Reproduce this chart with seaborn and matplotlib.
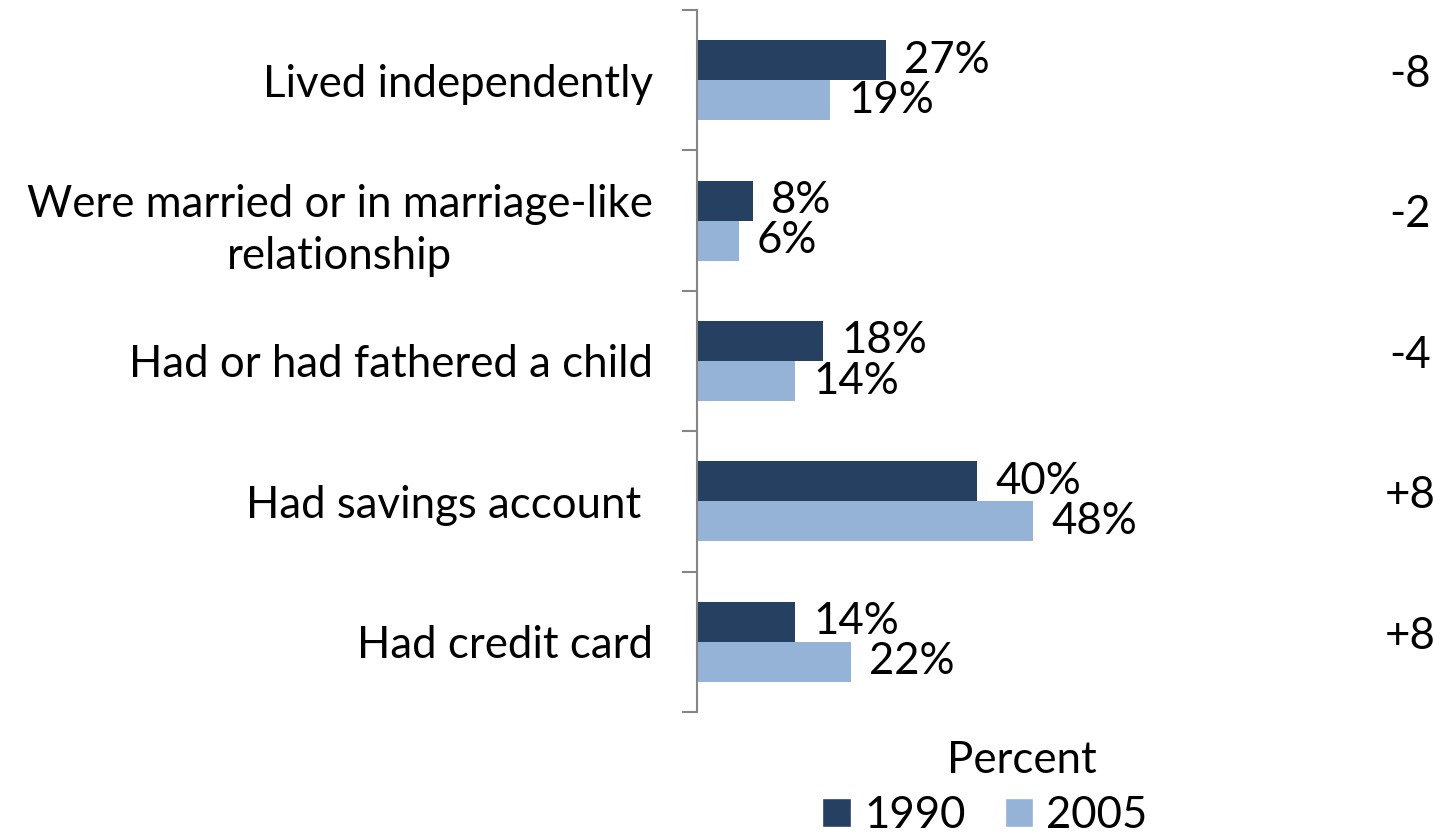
import matplotlib
matplotlib.use("Agg")
import matplotlib.pyplot as plt
import seaborn as sns
import pandas as pd
from matplotlib.patches import Patch

categories = ["Lived independently",
              "Were married or in marriage-like\nrelationship",
              "Had or had fathered a child",
              "Had savings account ",
              "Had credit card"]
values_1990 = [27, 8, 18, 40, 14]
values_2005 = [19, 6, 14, 48, 22]
changes = ["-8", "-2", "-4", "+8", "+8"]
years = ["1990", "2005"]
colors = ["#254061", "#95B3D7"]

sns.set_theme(style="white")
plt.rcParams['font.family'] = ['Lato', 'DejaVu Sans']
FS = 31.5

df = pd.DataFrame({
    "item": categories * 2,
    "value": values_1990 + values_2005,
    "year": [years[0]] * len(categories) + [years[1]] * len(categories),
})

fig = plt.figure(figsize=(14.33, 8.4), dpi=100)
ax = fig.add_axes([697 / 1433, 128 / 840, (1347 - 697) / 1433, 702 / 840])

sns.barplot(data=df, y="item", x="value", hue="year", orient="h",
            palette=colors, width=0.57, saturation=1, ax=ax, legend=False,
            order=categories, hue_order=years, linewidth=0)

for cont, vals in zip(ax.containers, [values_1990, values_2005]):
    ax.bar_label(cont, labels=[f"{v}%" for v in vals], padding=13,
                 fontsize=FS, color="black")

ax.set_xlim(0, 650 / 7)
ax.set_ylim(len(categories) - 0.5, -0.5)

for i, c in enumerate(changes):
    ax.text(101.9, i - 0.04, c, ha="center", va="center", fontsize=FS,
            color="black", clip_on=False)

for s in ["top", "right", "bottom"]:
    ax.spines[s].set_visible(False)
ax.spines["left"].set_color("#868686")
ax.spines["left"].set_linewidth(1.5)

ax.set_xticks([])
ax.set_yticks(range(len(categories)))
ax.set_yticklabels(categories, fontsize=FS, multialignment="center",
                   linespacing=1.35)
ax.tick_params(axis="y", which="major", length=0, pad=32, labelcolor="black")
ax.set_yticks([i - 0.5 for i in range(len(categories) + 1)], minor=True)
ax.tick_params(axis="y", which="minor", left=True, length=11, width=1.5,
               color="#868686")

ax.set_xlabel("Percent", fontsize=FS, labelpad=20, color="black")
ax.set_ylabel("")

handles = [Patch(facecolor=colors[0]), Patch(facecolor=colors[1])]
fig.legend(handles, years, loc="center", bbox_to_anchor=(985 / 1433, 1 - 815 / 840),
           ncol=2, frameon=False, fontsize=FS, handlelength=0.65, handleheight=0.65,
           handletextpad=0.3, columnspacing=0.9, labelcolor="black",
           borderpad=0.1)

fig.savefig("out.png", dpi=100)
